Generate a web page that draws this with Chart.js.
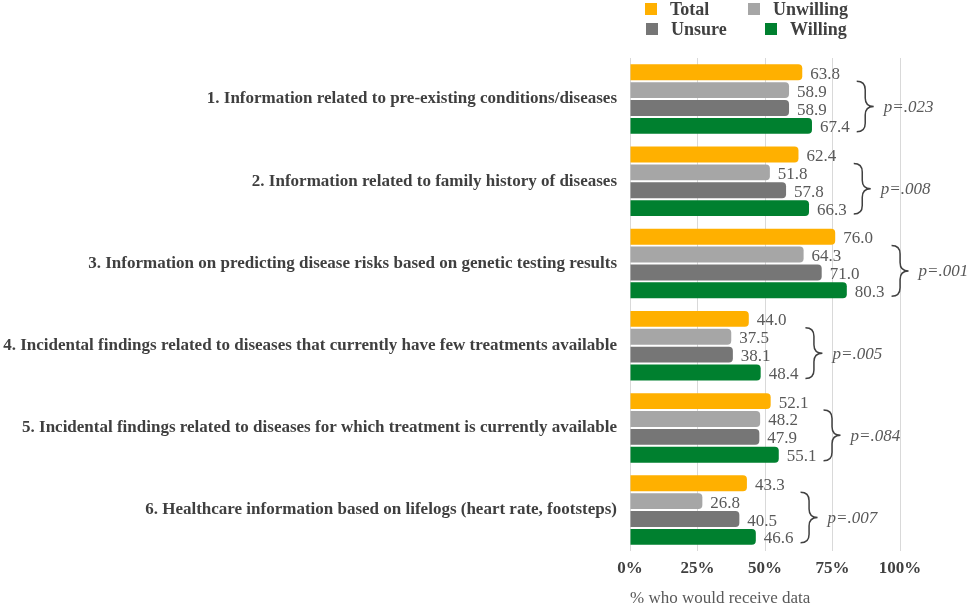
<!DOCTYPE html>
<html>
<head>
<meta charset="utf-8">
<script src="https://cdn.jsdelivr.net/npm/chart.js@4.4.1/dist/chart.umd.min.js"></script>
<style>
  html, body { margin: 0; padding: 0; background: #fff; }
</style>
</head>
<body>
<canvas id="myChart" width="969" height="605"></canvas>
<script>
let categories = [
  '1. Information related to pre-existing conditions/diseases',
  '2. Information related to family history of diseases',
  '3. Information on predicting disease risks based on genetic testing results',
  '4. Incidental findings related to diseases that currently have few treatments available',
  '5. Incidental findings related to diseases for which treatment is currently available',
  '6. Healthcare information based on lifelogs (heart rate, footsteps)'
];
let seriesNames = ['Total', 'Unwilling', 'Unsure', 'Willing'];
let total     = [63.8, 62.4, 76.0, 44.0, 52.1, 43.3];
let unwilling = [58.9, 51.8, 64.3, 37.5, 48.2, 26.8];
let unsure    = [58.9, 57.8, 71.0, 38.1, 47.9, 40.5];
let willing   = [67.4, 66.3, 80.3, 48.4, 55.1, 46.6];
let pValues   = ['p=.023', 'p=.008', 'p=.001', 'p=.005', 'p=.084', 'p=.007'];
let xTicks    = [0, 25, 50, 75, 100];

let colors = ['#FFB000', '#A6A6A6', '#767676', '#00802F'];
let serif = '"Liberation Serif", "Times New Roman", serif';

// curly brace pointing right
function drawBrace(ctx, x, y1, y2, w) {
  let ym = (y1 + y2) / 2;
  let r = w / 2;
  ctx.beginPath();
  ctx.moveTo(x, y1);
  ctx.quadraticCurveTo(x + r, y1, x + r, y1 + r);
  ctx.lineTo(x + r, ym - r);
  ctx.quadraticCurveTo(x + r, ym, x + w, ym);
  ctx.quadraticCurveTo(x + r, ym, x + r, ym + r);
  ctx.lineTo(x + r, y2 - r);
  ctx.quadraticCurveTo(x + r, y2, x, y2);
  ctx.stroke();
}

let extrasPlugin = {
  id: 'extras',
  afterDatasetsDraw(chart) {
    let ctx = chart.ctx;
    ctx.save();
    // value labels
    ctx.font = '17px ' + serif;
    ctx.fillStyle = '#595959';
    ctx.textAlign = 'left';
    ctx.textBaseline = 'middle';
    let rights = categories.map(() => 0);
    chart.data.datasets.forEach((ds, di) => {
      let meta = chart.getDatasetMeta(di);
      meta.data.forEach((bar, i) => {
        let txt = ds.data[i].toFixed(1);
        let x = bar.x + 8;
        ctx.fillText(txt, x, bar.y + 2);
        rights[i] = Math.max(rights[i], x + ctx.measureText(txt).width);
      });
    });
    // braces and p-values
    ctx.strokeStyle = '#404040';
    ctx.lineWidth = 1.5;
    ctx.font = 'italic 17px ' + serif;
    categories.forEach((c, i) => {
      let b1 = chart.getDatasetMeta(1).data[i];
      let b3 = chart.getDatasetMeta(3).data[i];
      let y1 = b1.y - b1.height / 2 - 1;
      let y2 = b3.y + b3.height / 2 - 2;
      let bx = rights[i] + 7;
      drawBrace(ctx, bx, y1, y2, 17);
      ctx.fillText(pValues[i], bx + 27, (y1 + y2) / 2 + 1);
    });
    ctx.restore();
  },
  afterDraw(chart) {
    // legend, two rows
    let ctx = chart.ctx;
    let spots = [[645, 9], [748, 9], [646, 29], [765, 29]];
    ctx.save();
    ctx.font = 'bold 18px ' + serif;
    ctx.textBaseline = 'middle';
    ctx.textAlign = 'left';
    chart.data.datasets.forEach((ds, i) => {
      let [x, y] = spots[i];
      ctx.fillStyle = ds.backgroundColor;
      ctx.fillRect(x, y - 6, 12, 12);
      ctx.fillStyle = '#404040';
      ctx.fillText(ds.label, x + 25, y + 1);
    });
    ctx.restore();
  }
};

let barConfig = {
  type: 'bar',
  data: {
    labels: categories,
    datasets: [
      { label: seriesNames[0], data: total,     backgroundColor: colors[0] },
      { label: seriesNames[1], data: unwilling, backgroundColor: colors[1] },
      { label: seriesNames[2], data: unsure,    backgroundColor: colors[2] },
      { label: seriesNames[3], data: willing,   backgroundColor: colors[3] }
    ]
  },
  options: {
    indexAxis: 'y',
    responsive: false,
    animation: false,
    layout: { padding: { top: 58, right: 69, bottom: -4, left: 0 } },
    datasets: {
      bar: { categoryPercentage: 0.87, barPercentage: 0.89, borderRadius: 4 }
    },
    plugins: {
      legend: { display: false },
      tooltip: { enabled: false }
    },
    scales: {
      x: {
        min: 0,
        max: 100,
        afterBuildTicks: (scale) => { scale.ticks = xTicks.map(v => ({ value: v })); },
        grid: { color: '#D9D9D9', drawTicks: false },
        border: { display: false },
        ticks: {
          padding: 7,
          color: '#404040',
          font: { family: serif, size: 17, weight: 'bold' },
          callback: function (value) { return value + '%'; }
        },
        title: {
          display: true,
          text: '% who would receive data',
          align: 'start',
          color: '#595959',
          font: { family: serif, size: 17 },
          padding: { top: 3, bottom: 0 }
        }
      },
      y: {
        grid: { display: false },
        border: { display: false },
        afterFit: (scale) => { scale.width = 630; },
        ticks: {
          padding: 5,
          color: '#3F3F3F',
          font: { family: serif, size: 17, weight: 'bold' }
        }
      }
    }
  },
  plugins: [extrasPlugin]
};

let barChart = new Chart(document.getElementById('myChart'), barConfig);
</script>
</body>
</html>
